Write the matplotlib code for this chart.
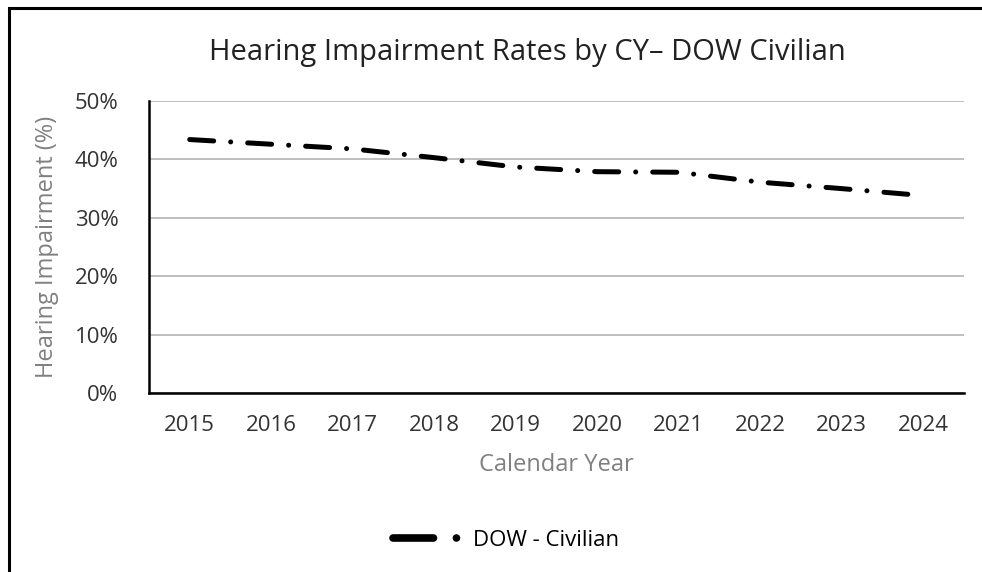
import matplotlib.pyplot as plt
from matplotlib.lines import Line2D
from matplotlib.patches import Rectangle
from matplotlib.ticker import PercentFormatter

plt.rcParams['font.family'] = ['Open Sans', 'DejaVu Sans']

# data
years = ['2015', '2016', '2017', '2018', '2019', '2020', '2021', '2022', '2023', '2024']
civilian_rate = [43.4, 42.6, 41.8, 40.3, 38.7, 37.9, 37.8, 36.1, 35.0, 33.8]
y_ticks = [0, 10, 20, 30, 40, 50]

fig = plt.figure(figsize=(9.82, 5.72), dpi=100)
ax = fig.add_axes([0.1517, 0.3129, 0.83, 0.5105])

# outer chart border (right and bottom edges are cut off in the original)
fig.patches.append(Rectangle((0.0095, -0.05), 1.05, 1.036, transform=fig.transFigure,
                             fill=False, edgecolor='black', linewidth=2.2))

x = range(len(years))
dashdot = (0, (4.8, 3.4, 0.01, 3.4))
ax.plot(x, civilian_rate, color='black', linewidth=3.6, linestyle=dashdot,
        dash_capstyle='round', solid_capstyle='round')

ax.set_xlim(-0.5, len(years) - 0.5)
ax.set_ylim(0, 50)
ax.set_yticks(y_ticks)
ax.yaxis.set_major_formatter(PercentFormatter(decimals=0))
ax.set_xticks(list(x))
ax.set_xticklabels(years)

ax.grid(axis='y', color='#bfbfbf', linewidth=1.4)
ax.set_axisbelow(True)
for side in ['top', 'right']:
    ax.spines[side].set_visible(False)
ax.spines['left'].set_linewidth(1.8)
ax.spines['bottom'].set_linewidth(1.8)
ax.tick_params(length=0, labelsize=16, colors='#333333')
ax.tick_params(axis='x', pad=16)
ax.tick_params(axis='y', pad=22)

ax.set_ylabel('Hearing Impairment (%)', fontsize=17, color='#808080', labelpad=11)
ax.set_xlabel('Calendar Year', fontsize=17, color='#808080', labelpad=12)

fig.text(0.537, 0.909, 'Hearing Impairment Rates by CY– DOW Civilian',
         ha='center', va='center', fontsize=21, color='#222222')

proxy = Line2D([], [], color='black', linewidth=5.5, linestyle=(0, (5.3, 3.0, 0.01, 3.0)),
               dash_capstyle='round')
fig.legend([proxy], ['DOW - Civilian'], loc='center', bbox_to_anchor=(0.515, 0.055),
           frameon=False, fontsize=16, handlelength=3.15, handletextpad=0.45)

fig.savefig('out.png', dpi=100)
